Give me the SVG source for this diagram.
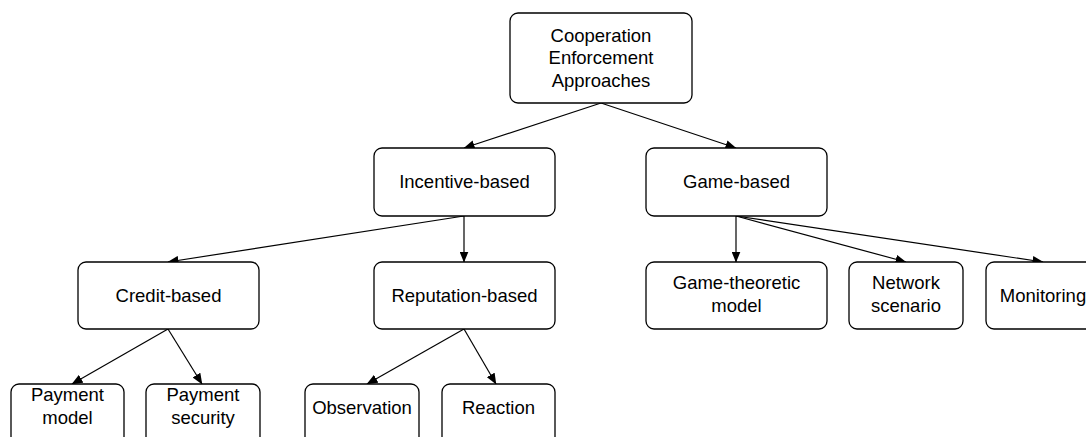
<svg xmlns="http://www.w3.org/2000/svg" width="1086" height="437" viewBox="0 0 1086 437">
<style>
.box{fill:#fff;stroke:#000;stroke-width:1.3}
.t{font-family:"Liberation Sans",Arial,sans-serif;font-size:18.5px;fill:#000;text-anchor:middle}
.c{stroke:#000;stroke-width:1.2;fill:none;marker-end:url(#ah)}
</style>
<defs>
<marker id="ah" markerWidth="11" markerHeight="9" refX="10.5" refY="4.5" orient="auto" markerUnits="userSpaceOnUse">
<path d="M0,0 L11,4.5 L0,9 Z" fill="#000"/>
</marker>
</defs>
<rect width="1086" height="437" fill="#fff"/>
<g id="connectors">
<line class="c" x1="601" y1="103" x2="464" y2="148"/>
<line class="c" x1="601" y1="103" x2="736" y2="148"/>
<line class="c" x1="464" y1="216" x2="168" y2="262"/>
<line class="c" x1="464" y1="216" x2="464" y2="262"/>
<line class="c" x1="736" y1="216" x2="736" y2="262"/>
<line class="c" x1="736" y1="216" x2="906" y2="262"/>
<line class="c" x1="736" y1="216" x2="1043" y2="262"/>
<line class="c" x1="168" y1="329" x2="72" y2="384"/>
<line class="c" x1="168" y1="329" x2="202" y2="384"/>
<line class="c" x1="464" y1="329" x2="367" y2="384"/>
<line class="c" x1="464" y1="329" x2="496" y2="384"/>
</g>
<g id="root"><rect class="box" x="510" y="13" width="182" height="90" rx="8"/>
<text class="t" x="601" y="41.5">Cooperation</text><text class="t" x="601" y="64">Enforcement</text><text class="t" x="601" y="86.5">Approaches</text></g>
<g id="incentive"><rect class="box" x="374" y="148" width="181" height="68" rx="8"/><text class="t" x="464.5" y="188">Incentive-based</text></g>
<g id="game"><rect class="box" x="646" y="148" width="181" height="68" rx="8"/><text class="t" x="736.5" y="188">Game-based</text></g>
<g id="credit"><rect class="box" x="78" y="262" width="181" height="67" rx="8"/><text class="t" x="168.5" y="302">Credit-based</text></g>
<g id="reputation"><rect class="box" x="374" y="262" width="181" height="67" rx="8"/><text class="t" x="464.5" y="302">Reputation-based</text></g>
<g id="gametheoretic"><rect class="box" x="646" y="262" width="181" height="67" rx="8"/><text class="t" x="736.5" y="289">Game-theoretic</text><text class="t" x="736.5" y="312">model</text></g>
<g id="network"><rect class="box" x="849" y="262" width="114" height="67" rx="8"/><text class="t" x="906" y="289">Network</text><text class="t" x="906" y="312">scenario</text></g>
<g id="monitoring"><rect class="box" x="986" y="262" width="114" height="67" rx="8"/><text class="t" x="1043" y="302">Monitoring</text></g>
<g id="paymentmodel"><rect class="box" x="11" y="384" width="113" height="67" rx="8"/><text class="t" x="67.5" y="401">Payment</text><text class="t" x="67.5" y="424">model</text></g>
<g id="paymentsecurity"><rect class="box" x="146" y="384" width="114" height="67" rx="8"/><text class="t" x="203" y="401">Payment</text><text class="t" x="203" y="424">security</text></g>
<g id="observation"><rect class="box" x="305" y="384" width="114" height="67" rx="8"/><text class="t" x="362" y="414">Observation</text></g>
<g id="reaction"><rect class="box" x="442" y="384" width="113" height="67" rx="8"/><text class="t" x="498.5" y="414">Reaction</text></g>
</svg>
